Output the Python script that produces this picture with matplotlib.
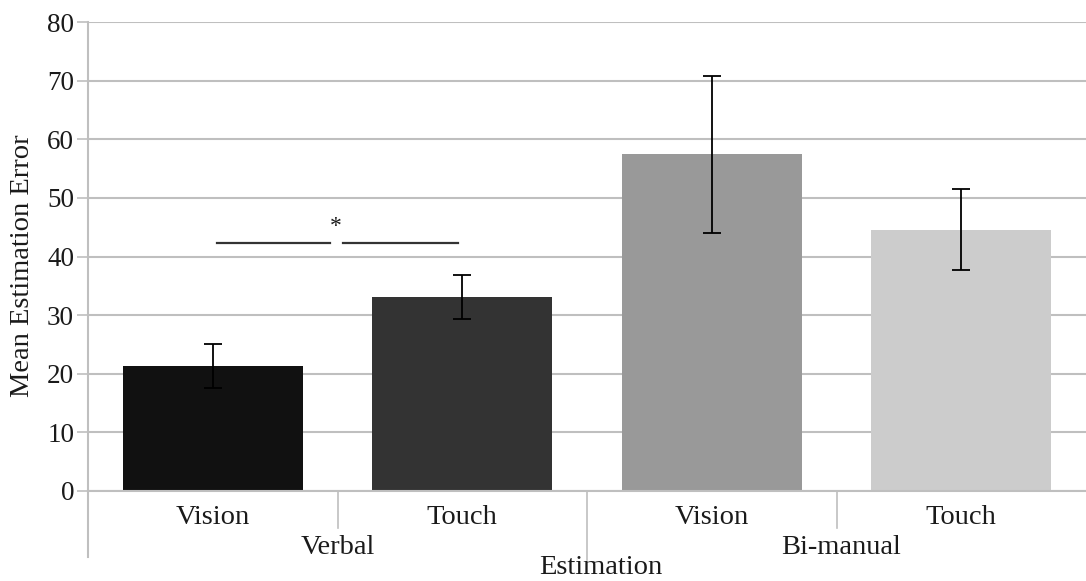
import numpy as np
from matplotlib import pyplot as plt
from matplotlib import transforms

plt.rcParams['font.family'] = ['Liberation Serif', 'DejaVu Serif']

# mean estimation error per condition, with standard error
groups = ['Verbal', 'Bi-manual']
conditions = ['Vision', 'Touch', 'Vision', 'Touch']
means = [21.4, 33.1, 57.4, 44.6]
errors = [3.75, 3.75, 13.4, 6.85]
colors = ['#111111', '#333333', '#999999', '#cccccc']
y_ticks = np.arange(0, 81, 10)

grid_col = '#bfbfbf'
txt_col = '#1a1a1a'
fs = 20.5

fig = plt.figure(figsize=(10.86, 5.81), dpi=100)
ax = fig.add_axes([88 / 1086, 90 / 581, 998 / 1086, 469 / 581])

x = np.arange(len(means))
ax.bar(x, means, width=0.72, color=colors, zorder=2)
ax.errorbar(x, means, yerr=errors, fmt='none', ecolor='black', elinewidth=1.3,
            capsize=6.5, capthick=1.3, zorder=3)

ax.set_xlim(-0.5, len(means) - 0.5)
ax.set_ylim(0, 80)
ax.set_yticks(y_ticks)
ax.yaxis.grid(True, color=grid_col, lw=1.5, zorder=0)
ax.set_xticks([])
ax.tick_params(axis='y', length=8, width=1.2, color=grid_col, labelsize=19.5,
               labelcolor=txt_col, pad=2)

for s in ['top', 'right', 'left']:
    ax.spines[s].set_visible(False)
ax.spines['bottom'].set_color(grid_col)
ax.spines['bottom'].set_linewidth(1.5)

# hierarchical category axis below the plot
trans = transforms.blended_transform_factory(ax.transData, ax.transAxes)
ax.plot([-0.5, -0.5], [1, -0.141], transform=trans, color=grid_col, lw=1.5, clip_on=False)
for b in [0.5, 2.5]:
    ax.plot([b, b], [0, -0.079], transform=trans, color=grid_col, lw=1.2, clip_on=False)
ax.plot([1.5, 1.5], [0, -0.147], transform=trans, color=grid_col, lw=1.2, clip_on=False)

for xi, name in zip(x, conditions):
    ax.text(xi, -0.056, name, transform=trans, ha='center', va='center',
            fontsize=fs, color=txt_col)
group_x = [0.5, 2.52]
for gx, name in zip(group_x, groups):
    ax.text(gx, -0.12, name, transform=trans, ha='center', va='center',
            fontsize=fs, color=txt_col)
ax.text(1.556, -0.164, 'Estimation', transform=trans, ha='center', va='center',
        fontsize=fs, color=txt_col)

fig.text(23 / 1086, (581 - 266) / 581, 'Mean Estimation Error', rotation=90,
         ha='center', va='center', fontsize=fs, color=txt_col)

# significance marker between verbal vision and touch
ax.plot([0.017, 0.47], [42.3, 42.3], color='#333333', lw=1.6, zorder=3)
ax.plot([0.522, 0.983], [42.3, 42.3], color='#333333', lw=1.6, zorder=3)
ax.text(0.494, 45.2, '*', ha='center', va='center', fontsize=17, color=txt_col)

plt.savefig('out.png', dpi=100)
